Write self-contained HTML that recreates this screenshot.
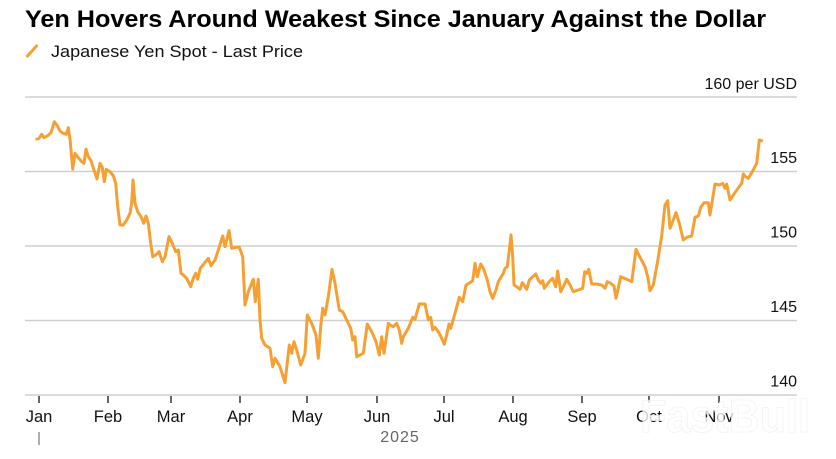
<!DOCTYPE html>
<html>
<head>
<meta charset="utf-8">
<style>
  html, body { margin: 0; padding: 0; background: #ffffff; }
  body { width: 836px; height: 459px; overflow: hidden; }
  svg { display: block; font-family: "Liberation Sans", Arial, sans-serif; }
</style>
</head>
<body>
<svg width="836" height="459" viewBox="0 0 836 459" xmlns="http://www.w3.org/2000/svg">
  <rect x="0" y="0" width="836" height="459" fill="#ffffff"/>

  <!-- Title -->
  <text x="25" y="27" font-size="24" font-weight="bold" fill="#000" textLength="741" lengthAdjust="spacingAndGlyphs">Yen Hovers Around Weakest Since January Against the Dollar</text>

  <!-- Legend -->
  <line x1="27.5" y1="56" x2="36.5" y2="46" stroke="#F6A033" stroke-width="3" stroke-linecap="round"/>
  <text x="51" y="57" font-size="16.5" fill="#111" textLength="252" lengthAdjust="spacingAndGlyphs">Japanese Yen Spot - Last Price</text>

  <!-- Gridlines -->
  <g stroke="#cfcfcf" stroke-width="1.5">
    <line x1="25" y1="97" x2="797" y2="97"/>
    <line x1="25" y1="171.5" x2="797" y2="171.5"/>
    <line x1="25" y1="246" x2="797" y2="246"/>
    <line x1="25" y1="320.5" x2="797" y2="320.5"/>
    <line x1="25" y1="395" x2="797" y2="395"/>
  </g>

  <!-- Y labels -->
  <g font-size="16" fill="#111" text-anchor="end">
    <text x="797" y="89">160 per USD</text>
    <text x="797" y="163">155</text>
    <text x="797" y="237.5">150</text>
    <text x="797" y="312">145</text>
    <text x="797" y="386.5">140</text>
  </g>

  <!-- X ticks -->
  <g stroke="#333" stroke-width="1.5">
    <line x1="39" y1="396" x2="39" y2="403"/>
    <line x1="108" y1="396" x2="108" y2="403"/>
    <line x1="171" y1="396" x2="171" y2="403"/>
    <line x1="240" y1="396" x2="240" y2="403"/>
    <line x1="307" y1="396" x2="307" y2="403"/>
    <line x1="377" y1="396" x2="377" y2="403"/>
    <line x1="444" y1="396" x2="444" y2="403"/>
    <line x1="513" y1="396" x2="513" y2="403"/>
    <line x1="582" y1="396" x2="582" y2="403"/>
    <line x1="649" y1="396" x2="649" y2="403"/>
    <line x1="719" y1="396" x2="719" y2="403"/>
  </g>
  <line x1="39" y1="432" x2="39" y2="445" stroke="#777" stroke-width="1.2"/>

  <!-- X labels -->
  <g font-size="16.5" fill="#111" text-anchor="middle">
    <text x="39" y="422">Jan</text>
    <text x="108" y="422">Feb</text>
    <text x="171" y="422">Mar</text>
    <text x="240" y="422">Apr</text>
    <text x="307" y="422">May</text>
    <text x="377" y="422">Jun</text>
    <text x="444" y="422">Jul</text>
    <text x="513" y="422">Aug</text>
    <text x="582" y="422">Sep</text>
    <text x="649" y="422">Oct</text>
    <text x="719" y="422">Nov</text>
  </g>
  <text x="400" y="442" font-size="16" fill="#666" text-anchor="middle" letter-spacing="1">2025</text>

  <!-- Series -->
  <polyline fill="none" stroke="#F6A033" stroke-width="3" stroke-linejoin="round" stroke-linecap="round"
    points="36.7,139 39,138.3 41.7,134.3 44,137.7 47.7,135.7 51,132.7 54.3,121.7 57.3,125.7 60,131 63.3,133.3 66.3,134.3 68.3,127.7 70.3,141.7 72.7,169.3 75,153.3 78.3,157.7 81.7,161.7 84,163.3 86,149 88.3,156.7 91,160.7 94,170 97,179 100,163.3 102.3,167.3 104.3,181.7 106.3,169.3 110,171.7 113.3,175.7 115.7,183.3 117.7,206.7 120,225 123.3,225 126.7,220 130,213.3 131.7,203.3 133,180 135,203.3 137.7,211.7 141,216.7 143.7,223.3 146,216 148.3,223.3 150.7,243.3 152.7,256.7 155.7,255 159,251.7 162.3,261.7 165,256.7 169,236.7 172.3,243.3 175.7,251.7 178.3,250 181,273.3 183.3,275 186.7,278.3 190.7,286.7 193.3,278.3 195.7,273.3 197.7,279.3 200.3,268.3 204.3,263.3 208.3,258.3 211,265.7 215,260 218.3,250 222.7,236 225,246.7 229,230.7 231.7,248.3 236.7,247.3 239.3,247.3 242.7,256.7 245,305 248.3,291.7 253.3,279.3 255.3,301.7 258.3,279.3 260,320 261.7,338.3 265,345 270,348.3 272.7,366.7 275,358.3 280,366.7 285,382.7 289.3,345 291.7,353.3 294,341.7 296.7,350 300.7,365 305,353.3 307.3,315 311.7,323.3 316,335 318.3,358.3 320.7,326.7 322.7,308.3 325,315 328.3,296.7 332,269.3 335,283.3 339.3,310 342.7,311.7 346.7,320 350.7,328.3 352.7,340 355,336.7 356.7,356.7 363.3,353.3 367.3,324 371.7,331.7 376,341.7 379.3,355 381.7,336.7 384,353.3 388.3,323.3 390,325 393.3,326.7 396.7,323.3 399.3,330 401.7,343.3 403.3,336.7 408.3,328.3 412.7,317.3 415,319.3 419.3,304 425,304 428.3,320 430.7,317.3 432.7,330 435,327.3 438.3,331.7 441.7,338.3 444.3,344.3 446.7,335 449,324 450.7,328.3 455,313.3 459.3,297.3 462.7,301.7 466,285 470,282.7 472.7,280.7 475,263.3 477.3,276.7 480.7,264 483.3,268.3 487.3,280 490,291.7 492.7,298.3 496,290 498.3,281.7 503.3,273.3 505,268.3 507.3,266.7 509.3,250 511,235 512.7,256.7 514,285 516.7,286.7 520,289.3 522.3,282.7 524,285 526.7,289.3 529.3,280 532.7,276.7 535.7,274 538.3,280 540.7,283.3 542.7,280.7 544.3,288.3 546.7,285 550,280.7 552.7,278.3 555.7,286.7 557.7,271 560.7,291.7 563.3,286.7 566.7,279.3 570,285 573.3,291.7 578.3,290 582.7,288.3 584.7,271.7 586.7,273.3 588.7,269.3 591.7,284 596.7,284 601.7,285 605,288.3 607.3,281.7 610.7,283.3 614,286 616,298.3 620.7,276.7 626.7,279.3 631.7,281.7 636,249.3 640,257.3 645,266.7 647.7,276.7 650,290.7 653.3,285 657.3,263.3 661.7,236 665,205 667.7,200.7 670,228.3 673.3,220 676,212.7 679.3,223.3 683.3,240 686.7,237.3 691.7,236 695,217.3 698.3,216 700.7,207.3 704,202.7 708.3,202.7 710,215 715,184 719.3,185 722.7,183.3 725,188.3 726.7,184 730,200 733.3,195 737.3,189.3 741.7,183.3 743.3,174 745.7,176.7 748.3,178.3 753.3,170 756.7,163.3 759.3,140 761.7,140.7"/>

  <!-- Faint watermark -->
  <text x="640" y="432" font-size="46" font-weight="bold" fill="#ffffff" stroke="#f2f2f2" stroke-width="1" opacity="0.8" textLength="170" lengthAdjust="spacingAndGlyphs">FastBull</text>
</svg>
</body>
</html>
